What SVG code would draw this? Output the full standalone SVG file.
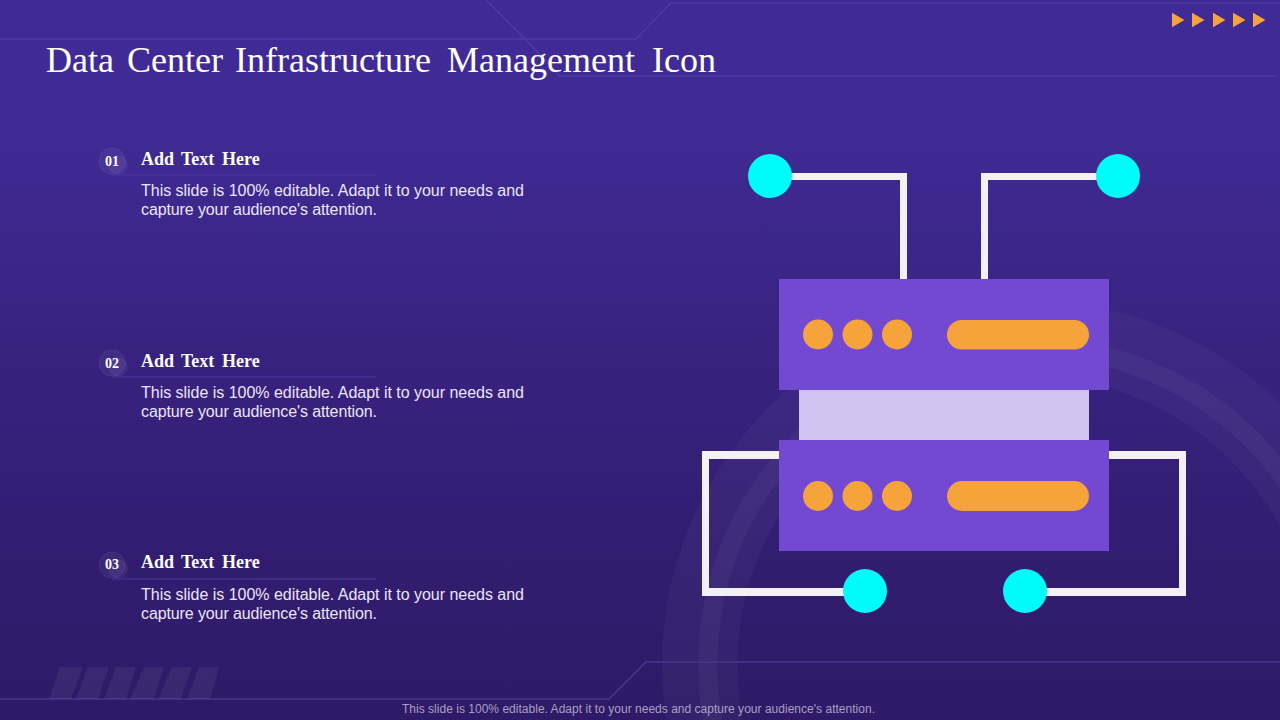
<svg xmlns="http://www.w3.org/2000/svg" width="1280" height="720" viewBox="0 0 1280 720">
<defs>
<linearGradient id="bg" x1="0" y1="0" x2="0" y2="1"><stop offset="0" stop-color="#402b96"/><stop offset="0.15" stop-color="#402b96"/><stop offset="0.5" stop-color="#38227f"/><stop offset="0.75" stop-color="#331d72"/><stop offset="1" stop-color="#2e1a66"/></linearGradient>
<polygon id="tri" points="0,-7.300 12.500,0 0,7.300" fill="#f7a33c"/>
</defs>
<style>
.deco{fill:none;stroke-width:1.5}
.h{font:bold 18px "Liberation Serif",serif;fill:#fff}
.num{font:bold 14px "Liberation Serif",serif;fill:#fff;text-anchor:middle}
.b{font:16px "Liberation Sans",sans-serif;fill:#ebe6f7}
.wire{fill:#f3f1f7}
.srv{fill:#7249d0}
.o{fill:#f7a33c}
.c{fill:#00fbfb}
.sep{stroke:#4d379f;stroke-width:1}
.badge{fill:#fff;fill-opacity:.05;stroke:#fff;stroke-opacity:.07}
.ring{fill:none;stroke:#fff}
</style>
<rect width="1280" height="720" fill="url(#bg)"/>
<g id="background">
<circle class="ring" cx="1026.500" cy="665" r="346.500" stroke-width="36" stroke-opacity=".03"/>
<circle class="ring" cx="1026.500" cy="665" r="318.750" stroke-width="19.500" stroke-opacity=".065"/>
<circle class="ring" cx="1026.500" cy="665" r="299" stroke-width="20" stroke-opacity=".03"/>
<path class="deco" stroke="#5039a6" d="M0 39H636L671 3H1280M486 0L525 39L560 76H1276"/>
<path class="deco" stroke="#4a3590" d="M0 699H609L646 662H1280"/>
<path d="M60 667H83L71 699H49ZM88 667H109L98 699H76ZM116 667H136L126 699H104ZM144 667H164L154 699H130ZM172 667H192L181 699H158ZM199 667H219L210 699H187Z" fill="#fff" fill-opacity=".06"/>
<use href="#tri" x="1172" y="20"/><use href="#tri" x="1192" y="20"/><use href="#tri" x="1213" y="20"/><use href="#tri" x="1233" y="20"/><use href="#tri" x="1253" y="20"/>
</g>
<text id="title" y="72" font-family="'Liberation Serif',serif" font-size="36" fill="#fff"><tspan x="46">Data</tspan> <tspan x="127">Center</tspan> <tspan x="235">Infrastructure</tspan> <tspan x="447">Management</tspan> <tspan x="652">Icon</tspan></text>
<g id="item1">
<circle class="badge" cx="112" cy="161" r="13"/><circle class="badge" cx="118" cy="165" r="9"/>
<text class="num" x="112" y="166">01</text>
<text class="h" y="165"><tspan x="141">Add</tspan> <tspan x="181">Text</tspan> <tspan x="222">Here</tspan></text>
<line class="sep" x1="112" y1="175" x2="376" y2="175"/>
<text class="b" x="141" y="196" textLength="383">This slide is 100% editable. Adapt it to your needs and</text>
<text class="b" x="141" y="215" textLength="236">capture your audience's attention.</text>
</g>
<g id="item2">
<circle class="badge" cx="112" cy="363" r="13"/><circle class="badge" cx="118" cy="367" r="9"/>
<text class="num" x="112" y="368">02</text>
<text class="h" y="367"><tspan x="141">Add</tspan> <tspan x="181">Text</tspan> <tspan x="222">Here</tspan></text>
<line class="sep" x1="112" y1="377" x2="376" y2="377"/>
<text class="b" x="141" y="398" textLength="383">This slide is 100% editable. Adapt it to your needs and</text>
<text class="b" x="141" y="417" textLength="236">capture your audience's attention.</text>
</g>
<g id="item3">
<circle class="badge" cx="112" cy="565" r="13"/><circle class="badge" cx="118" cy="569" r="9"/>
<text class="num" x="112" y="569">03</text>
<text class="h" y="568"><tspan x="141">Add</tspan> <tspan x="181">Text</tspan> <tspan x="222">Here</tspan></text>
<line class="sep" x1="112" y1="579" x2="376" y2="579"/>
<text class="b" x="141" y="600" textLength="383">This slide is 100% editable. Adapt it to your needs and</text>
<text class="b" x="141" y="619" textLength="236">capture your audience's attention.</text>
</g>
<g id="connectors">
<path class="wire" d="M770 173H907V279H900V180H770Z"/>
<path class="wire" d="M1118 173H981V279H988V180H1118Z"/>
<path class="wire" d="M779 451H702V596H865V588H709V459H779Z"/>
<path class="wire" d="M1109 451H1186V596H1025V588H1179V459H1109Z"/>
</g>
<g id="server">
<rect x="799" y="390" width="290" height="50" fill="#d0c3f0"/>
<g id="unit-top"><rect class="srv" x="779" y="279" width="330" height="111"/>
<circle class="o" cx="818" cy="334.500" r="15"/><circle class="o" cx="857.500" cy="334.500" r="15"/><circle class="o" cx="897" cy="334.500" r="15"/>
<rect class="o" x="947" y="320" width="142" height="29.500" rx="14.750"/></g>
<g id="unit-bottom"><rect class="srv" x="779" y="440" width="330" height="111"/>
<circle class="o" cx="818" cy="496" r="15"/><circle class="o" cx="857.500" cy="496" r="15"/><circle class="o" cx="897" cy="496" r="15"/>
<rect class="o" x="947" y="481" width="142" height="30" rx="15"/></g>
</g>
<g id="node-tl"><circle class="c" cx="770" cy="176" r="22"/></g>
<g id="node-tr"><circle class="c" cx="1118" cy="176" r="22"/></g>
<g id="node-bl"><circle class="c" cx="865" cy="591" r="22"/></g>
<g id="node-br"><circle class="c" cx="1025" cy="591" r="22"/></g>
<text id="footer" x="402" y="713" textLength="473" font-family="'Liberation Sans',sans-serif" font-size="12" fill="#a99fc6">This slide is 100% editable. Adapt it to your needs and capture your audience's attention.</text>
</svg>
